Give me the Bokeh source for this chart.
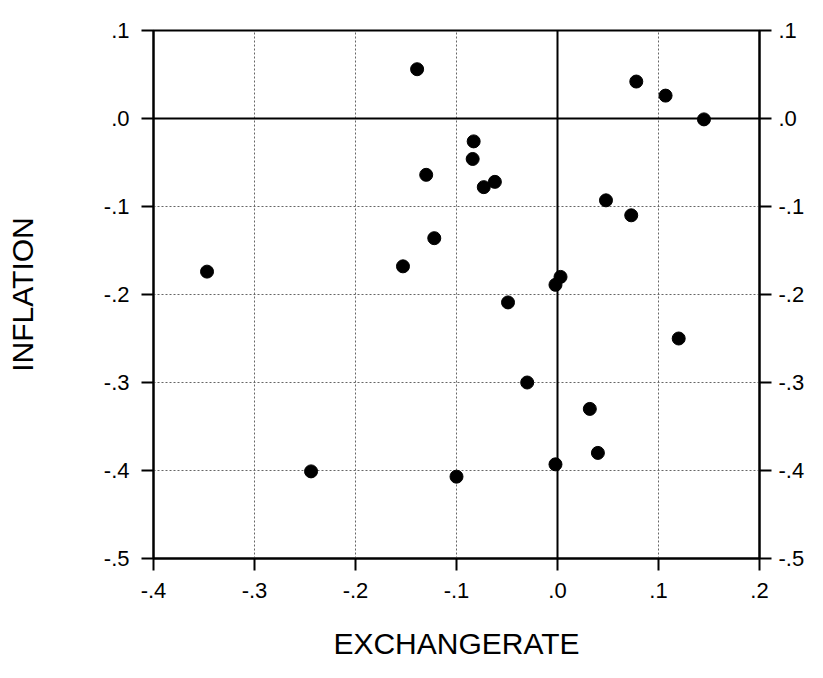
from bokeh.plotting import figure
from bokeh.models import Range1d, LinearAxis, FixedTicker, Span
from bokeh.embed import file_html
from bokeh.resources import INLINE

# ---- data ----
exchangerate = [-0.347, -0.139, -0.083, -0.084, -0.130, -0.062, -0.073, -0.122,
                -0.153, 0.003, -0.002, -0.049, 0.078, 0.107, 0.145, 0.048,
                0.073, -0.244, -0.030, -0.002, -0.100, 0.120, 0.032, 0.040]
inflation = [-0.174, 0.056, -0.026, -0.046, -0.064, -0.072, -0.078, -0.136,
             -0.168, -0.180, -0.189, -0.209, 0.042, 0.026, -0.001, -0.093,
             -0.110, -0.401, -0.300, -0.393, -0.407, -0.250, -0.330, -0.380]

x_ticks = [-0.4, -0.3, -0.2, -0.1, 0.0, 0.1, 0.2]
x_tick_labels = ["-.4", "-.3", "-.2", "-.1", ".0", ".1", ".2"]
y_ticks = [-0.5, -0.4, -0.3, -0.2, -0.1, 0.0, 0.1]
y_tick_labels = ["-.5", "-.4", "-.3", "-.2", "-.1", ".0", ".1"]

x_label = "EXCHANGERATE"
y_label = "INFLATION"

FONT = "Liberation Sans"

p = figure(width=807, height=662, output_backend="svg", toolbar_location=None,
           x_range=Range1d(-0.4, 0.2), y_range=Range1d(-0.5, 0.1),
           min_border_left=153, min_border_right=46, min_border_top=30,
           min_border_bottom=102, background_fill_color="white",
           border_fill_color="white")

p.outline_line_color = "black"
p.outline_line_width = 2

def style_axis(ax, ticks, labels):
    ax.ticker = FixedTicker(ticks=ticks)
    ax.major_label_overrides = dict(zip(ticks, labels))
    ax.major_label_text_font = FONT
    ax.major_label_text_font_size = "22px"
    ax.major_label_text_color = "black"
    ax.major_tick_out = 12
    ax.major_tick_in = 0
    ax.minor_tick_out = 0
    ax.minor_tick_in = 0
    ax.major_tick_line_width = 2
    ax.major_tick_line_color = "black"
    ax.axis_line_width = 2
    ax.axis_line_color = "black"
    ax.axis_label_text_font = FONT
    ax.axis_label_text_font_style = "normal"
    ax.axis_label_text_font_size = "30px"
    ax.axis_label_text_color = "black"

xa = p.xaxis[0]
style_axis(xa, x_ticks, x_tick_labels)
xa.axis_label = x_label
xa.major_label_standoff = 12
xa.axis_label_standoff = 26

ya = p.yaxis[0]
style_axis(ya, y_ticks, y_tick_labels)
ya.axis_label = y_label
ya.major_label_standoff = 12
ya.axis_label_standoff = 62

ra = LinearAxis()
style_axis(ra, y_ticks, y_tick_labels)
ra.major_label_standoff = 7
p.add_layout(ra, "right")

for g, t in ((p.xgrid[0], x_ticks), (p.ygrid[0], y_ticks)):
    g.ticker = FixedTicker(ticks=t)
    g.grid_line_color = "#666666"
    g.grid_line_dash = "2 2"
    g.grid_line_width = 1

p.add_layout(Span(location=0, dimension="height", line_color="black", line_width=2))
p.add_layout(Span(location=0, dimension="width", line_color="black", line_width=2))

p.scatter(exchangerate, inflation, size=13, marker="circle",
          fill_color="black", line_color="black")

open("out.html", "w").write(file_html(p, INLINE))
